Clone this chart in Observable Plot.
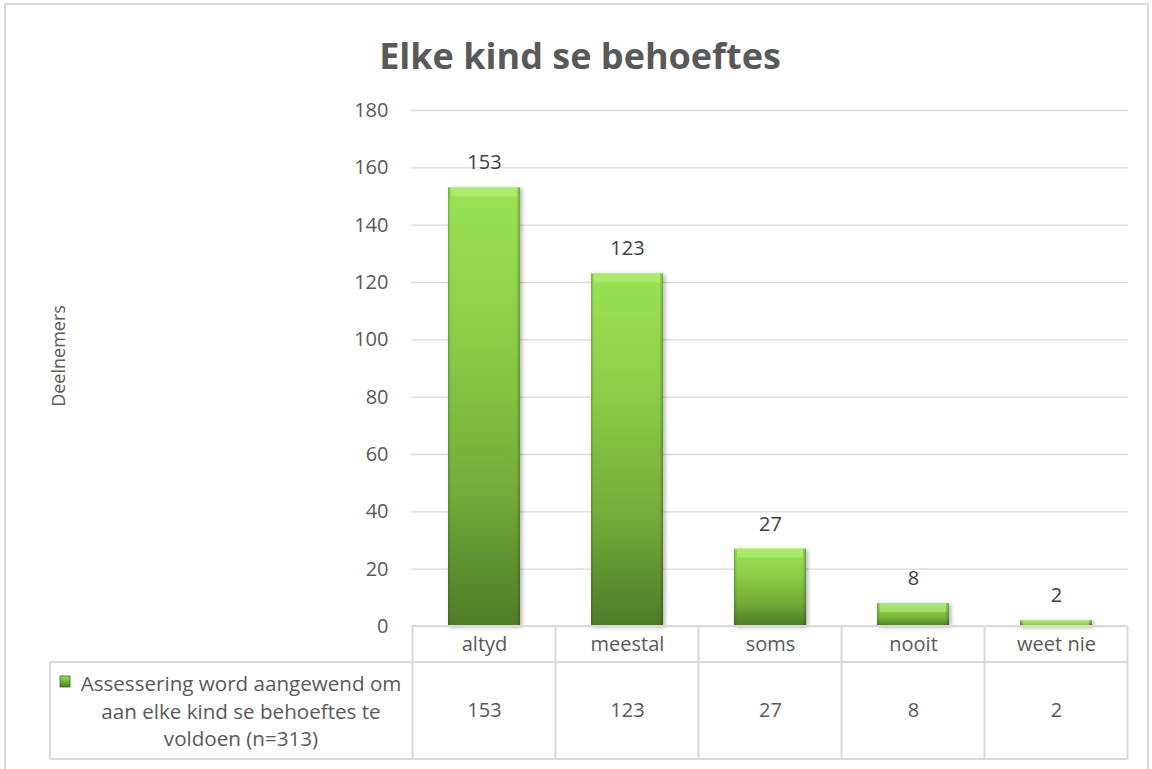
<!DOCTYPE html>
<html>
<head>
<meta charset="utf-8">
<script src="https://cdn.jsdelivr.net/npm/d3@7"></script>
<script src="https://cdn.jsdelivr.net/npm/@observablehq/plot@0.6"></script>
<style>
  html, body { margin: 0; padding: 0; background: #fff; }
  svg { display: block; }
</style>
</head>
<body>
<div id="chart"></div>
<script>
const title = "Elke kind se behoeftes";
const yLabel = "Deelnemers";
const categories = ["altyd", "meestal", "soms", "nooit", "weet nie"];
const values = [153, 123, 27, 8, 2];
const seriesName = ["Assessering word aangewend om", "aan elke kind se behoeftes te", "voldoen (n=313)"];
const yTicks = [0, 20, 40, 60, 80, 100, 120, 140, 160, 180];

const data = categories.map((c, i) => ({cat: c, value: values[i]}));

const W = 1152, H = 769;
const textColor = "#595959";
const font = "'Open Sans', 'DejaVu Sans', sans-serif";

const chart = Plot.plot({
  width: W,
  height: H,
  marginLeft: 411,
  marginRight: 24,
  marginTop: 110,
  marginBottom: 143,
  style: {fontFamily: font, fontSize: "20px", color: textColor, background: "#fff"},
  x: {domain: categories, paddingInner: 0.5, paddingOuter: 0.25, axis: null},
  y: {domain: [0, 180], ticks: yTicks, tickSize: 0, tickPadding: 23, label: null, tickFormat: d => String(d)},
  marks: [
    Plot.ruleY(yTicks, {stroke: "#d9d9d9", strokeWidth: 1.4}),
    Plot.barY(data, {x: "cat", y: "value", fill: "url(#barGrad)"}),
    Plot.barY(data, {x: "cat", y: "value", fill: "url(#sideGrad)"}),
    Plot.barY(data, {x: "cat", y1: "value", y2: "value", insetBottom: -9, insetLeft: 3, insetRight: 3, fill: "#c2f58c", fillOpacity: 0.45}),
    Plot.text(data, {x: "cat", y: "value", text: d => String(d.value), dy: -25, lineAnchor: "middle", fontSize: 20, fill: "#404040"}),
    Plot.text(data, {x: "cat", y: 0, text: "cat", dy: 18, lineAnchor: "middle", fontSize: 20, fill: textColor}),
    Plot.text(data, {x: "cat", y: 0, text: d => String(d.value), dy: 84, lineAnchor: "middle", fontSize: 20, fill: textColor})
  ]
});

document.getElementById("chart").appendChild(chart);

const svg = d3.select(chart);
const defs = svg.insert("defs", ":first-child");
const g1 = defs.append("linearGradient").attr("id", "barGrad").attr("x1", 0).attr("y1", 0).attr("x2", 0).attr("y2", 1);
[[0, "#9ae354"], [0.35, "#8acd47"], [0.7, "#72ab39"], [1, "#4f7b28"]].forEach(([o, c]) =>
  g1.append("stop").attr("offset", o).attr("stop-color", c));
const g2 = defs.append("linearGradient").attr("id", "sideGrad").attr("x1", 0).attr("y1", 0).attr("x2", 1).attr("y2", 0);
[[0, 0.3], [0.04, 0], [0.95, 0], [1, 0.35]].forEach(([o, a]) =>
  g2.append("stop").attr("offset", o).attr("stop-color", "#1e3310").attr("stop-opacity", a));
const g3 = defs.append("linearGradient").attr("id", "keyGrad").attr("x1", 0).attr("y1", 0).attr("x2", 0).attr("y2", 1);
[[0, "#9ae354"], [1, "#4f7b28"]].forEach(([o, c]) => g3.append("stop").attr("offset", o).attr("stop-color", c));
const f = defs.append("filter").attr("id", "shadow").attr("x", "-20%").attr("y", "-5%").attr("width", "140%").attr("height", "115%");
f.append("feDropShadow").attr("dx", 2).attr("dy", 1).attr("stdDeviation", 2).attr("flood-color", "#000").attr("flood-opacity", 0.3);

// shadow on the main bars
svg.selectAll("g[aria-label='bar']").filter((d, i) => i === 0).attr("filter", "url(#shadow)");

const xs = chart.scale("x"), ys = chart.scale("y");
const step = xs.step, bw = xs.bandwidth;
const y0 = ys.apply(0);
const left = xs.apply(categories[0]) - (step - bw) / 2;
const right = xs.apply(categories[categories.length - 1]) - (step - bw) / 2 + step;
const headerH = 36, rowH = 97;
const border = "#d9d9d9";

const tbl = svg.append("g").attr("stroke", border).attr("stroke-width", 2).attr("fill", "none");
// outer chart border
svg.insert("rect", "defs + *").attr("x", 5).attr("y", 4).attr("width", W - 9).attr("height", H + 20)
  .attr("fill", "none").attr("stroke", border).attr("stroke-width", 2);
// table lines
tbl.append("line").attr("x1", left).attr("x2", right).attr("y1", y0).attr("y2", y0);
tbl.append("line").attr("x1", 50).attr("x2", right).attr("y1", y0 + headerH).attr("y2", y0 + headerH);
tbl.append("line").attr("x1", 50).attr("x2", right).attr("y1", y0 + headerH + rowH).attr("y2", y0 + headerH + rowH);
tbl.append("line").attr("x1", 50).attr("x2", 50).attr("y1", y0 + headerH).attr("y2", y0 + headerH + rowH);
for (let i = 0; i <= categories.length; i++) {
  const x = left + i * step;
  tbl.append("line").attr("x1", x).attr("x2", x).attr("y1", y0).attr("y2", y0 + headerH + rowH);
}

// legend cell
const lg = svg.append("g").attr("font-family", font).attr("font-size", 20.6).attr("fill", textColor);
lg.append("rect").attr("x", 60).attr("y", 676).attr("width", 10).attr("height", 11)
  .attr("fill", "url(#keyGrad)").attr("stroke", "#3f6320").attr("stroke-width", 0.8);
seriesName.forEach((line, i) => {
  lg.append("text").attr("x", 241).attr("y", y0 + headerH + 21 + i * 27.5)
    .attr("text-anchor", "middle").attr("dominant-baseline", "central").text(line);
});

// title
svg.append("text").attr("x", 580).attr("y", 55).attr("text-anchor", "middle").attr("dominant-baseline", "central")
  .attr("font-family", font).attr("font-weight", "bold").attr("font-size", 36).attr("fill", textColor).text(title);

// y label
svg.append("text").attr("transform", "translate(58,356) rotate(-90)").attr("text-anchor", "middle")
  .attr("dominant-baseline", "central").attr("font-family", font).attr("font-size", 18).attr("fill", textColor).text(yLabel);
</script>
</body>
</html>
